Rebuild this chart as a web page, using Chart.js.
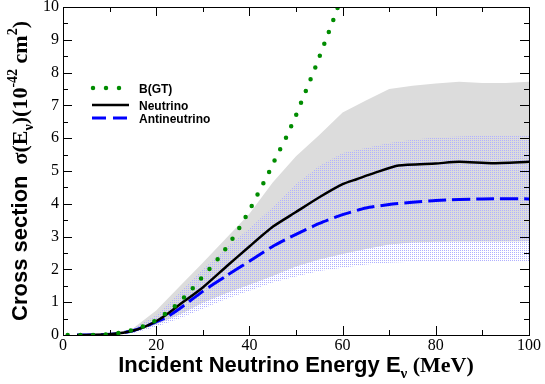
<!DOCTYPE html>
<html>
<head>
<meta charset="utf-8">
<script src="https://cdn.jsdelivr.net/npm/chart.js@4.4.1/dist/chart.umd.min.js"></script>
<style>
  html, body { margin: 0; padding: 0; background: #fff; }
</style>
</head>
<body>
<canvas id="xsChart" width="545" height="384"></canvas>
<script>
// Cross sections (10^-42 cm^2) vs incident energy (MeV)
const bgtE = [1, 3, 6, 9, 12, 15, 17.5, 20, 22, 24, 26, 28, 30, 32, 34, 36, 38, 40, 42, 44, 46, 48, 50, 52, 54, 56, 58, 60];
const bgtXs = [0, 0, 0, 0.01, 0.06, 0.15, 0.28, 0.45, 0.65, 0.88, 1.15, 1.45, 1.78, 2.1, 2.45, 2.85, 3.3, 3.8, 4.35, 4.9, 5.5, 6.05, 6.7, 7.4, 8.1, 8.85, 9.6, 10.4];

const nuE = [3, 5, 10, 12, 15, 17.5, 20, 22, 25, 30, 35, 40, 45, 50, 55, 60, 63, 67, 72, 80, 85, 92, 100];
const nuXs = [0, 0, 0.02, 0.05, 0.13, 0.25, 0.42, 0.6, 0.92, 1.45, 2.08, 2.7, 3.3, 3.75, 4.2, 4.6, 4.75, 4.95, 5.17, 5.23, 5.28, 5.24, 5.28];

const antiE = [3, 5, 8, 10, 12, 15, 17.5, 20, 22, 25, 30, 35, 40, 45, 50, 55, 60, 65, 70, 75, 80, 90, 100];
const antiXs = [0, 0, 0.01, 0.02, 0.05, 0.13, 0.25, 0.4, 0.52, 0.8, 1.33, 1.8, 2.25, 2.7, 3.07, 3.4, 3.67, 3.87, 3.98, 4.05, 4.1, 4.15, 4.15];

// uncertainty bands
const bandE = [3, 5, 10, 15, 20, 25, 30, 35, 40, 45, 50, 55, 60, 65, 70, 75, 80, 85, 90, 95, 100];
const nuUpper = [0, 0, 0.02, 0.2, 0.75, 1.48, 2.2, 2.95, 3.7, 4.65, 5.45, 6.1, 6.78, 7.15, 7.5, 7.6, 7.67, 7.72, 7.68, 7.68, 7.72];
const nuLower = [0, 0, 0, 0.08, 0.32, 0.62, 0.98, 1.27, 1.53, 1.8, 2.09, 2.3, 2.47, 2.62, 2.76, 2.82, 2.84, 2.85, 2.85, 2.85, 2.86];
const antiUpper = [0, 0, 0.02, 0.2, 0.6, 1.3, 2.0, 2.65, 3.25, 3.9, 4.6, 5.15, 5.55, 5.7, 5.85, 5.95, 6.02, 6.05, 6.08, 6.08, 6.1];
const antiLower = [0, 0, 0, 0.05, 0.25, 0.5, 0.8, 1.1, 1.35, 1.6, 1.78, 1.95, 2.05, 2.15, 2.2, 2.23, 2.24, 2.25, 2.25, 2.25, 2.25];

const xTickStep = 20;
const yTickStep = 1;

const pts = (xs, ys) => xs.map((x, i) => ({ x, y: ys[i] }));

// blue stipple for the antineutrino band
const tile = document.createElement('canvas');
tile.width = 2; tile.height = 2;
const tctx = tile.getContext('2d');
tctx.fillStyle = '#b0b0ff';
tctx.fillRect(0, 0, 1, 1);
const stipple = tctx.createPattern(tile, 'repeat');

const green = 'rgb(0,140,0)';
const blue = '#0000ff';
const sans = '"Liberation Sans", Arial, sans-serif';
const serif = '"Liberation Serif", "Times New Roman", serif';

// frame with inward ticks on all four sides
const framePlugin = {
  id: 'frame',
  afterDatasetsDraw(chart) {
    const { ctx, chartArea: a, scales } = chart;
    ctx.save();
    ctx.strokeStyle = '#000';
    ctx.lineWidth = 1;
    ctx.beginPath();
    for (let v = 0; v <= 100; v += 10) {
      const px = Math.round(scales.x.getPixelForValue(v)) + 0.5;
      const len = v % 20 === 0 ? 9 : 5;
      ctx.moveTo(px, a.bottom); ctx.lineTo(px, a.bottom - len);
      ctx.moveTo(px, a.top); ctx.lineTo(px, a.top + len);
    }
    for (let v = 0; v <= 10; v += 0.5) {
      const py = Math.round(scales.y.getPixelForValue(v)) + 0.5;
      const len = Number.isInteger(v) ? 9 : 5;
      ctx.moveTo(a.left, py); ctx.lineTo(a.left + len, py);
      ctx.moveTo(a.right, py); ctx.lineTo(a.right - len, py);
    }
    ctx.stroke();
    ctx.strokeRect(Math.round(a.left) + 0.5, Math.round(a.top) + 0.5, Math.round(a.right - a.left), Math.round(a.bottom - a.top));
    ctx.restore();
  }
};

// legend + axis titles
const textPlugin = {
  id: 'texts',
  afterDraw(chart) {
    const { ctx, chartArea: a } = chart;
    ctx.save();
    ctx.fillStyle = '#000';
    ctx.textBaseline = 'alphabetic';

    // legend
    const rows = [
      { label: 'B(GT)', y: 88, ds: chart.data.datasets[0] },
      { label: 'Neutrino', y: 105, ds: chart.data.datasets[1] },
      { label: 'Antineutrino', y: 118, ds: chart.data.datasets[2] }
    ];
    rows.forEach(r => {
      ctx.save();
      ctx.strokeStyle = r.ds.borderColor;
      ctx.lineWidth = r.ds.borderWidth;
      ctx.lineCap = r.ds.borderCapStyle || 'butt';
      ctx.beginPath();
      if (r.label === 'B(GT)') {
        ctx.setLineDash([0, 13]);
        ctx.moveTo(93, r.y); ctx.lineTo(122, r.y);
      } else if (r.label === 'Antineutrino') {
        ctx.setLineDash([14, 7]);
        ctx.moveTo(92, r.y); ctx.lineTo(129, r.y);
      } else {
        ctx.moveTo(92, r.y); ctx.lineTo(129, r.y);
      }
      ctx.stroke();
      ctx.restore();
      ctx.font = 'bold 12px ' + sans;
      ctx.fillText(r.label, 139, r.y + 4.5);
    });

    // x title
    const xParts = [
      { t: 'Incident Neutrino Energy E', f: 'bold 22px ' + sans, dy: 0 },
      { t: 'ν', f: 'bold 15px ' + serif, dy: 6 },
      { t: ' (MeV)', f: 'bold 22px ' + serif, dy: 0 }
    ];
    drawParts(ctx, xParts, (a.left + a.right) / 2, 372);

    // y title
    const yParts = [
      { t: 'Cross section', f: 'bold 22px ' + sans, dy: 0 },
      { t: '  σ(E', f: 'bold 22px ' + serif, dy: 0 },
      { t: 'ν', f: 'bold 14px ' + serif, dy: 6 },
      { t: ')(10', f: 'bold 22px ' + serif, dy: 0 },
      { t: '-42', f: 'bold 14px ' + serif, dy: -10 },
      { t: ' cm', f: 'bold 22px ' + serif, dy: 0 },
      { t: '2', f: 'bold 14px ' + serif, dy: -10 },
      { t: ')', f: 'bold 22px ' + serif, dy: 0 }
    ];
    ctx.translate(27, (a.top + a.bottom) / 2);
    ctx.rotate(-Math.PI / 2);
    drawParts(ctx, yParts, 0, 0);
    ctx.restore();
  }
};

function drawParts(ctx, parts, cx, baseY) {
  let total = 0;
  parts.forEach(p => { ctx.font = p.f; p.w = ctx.measureText(p.t).width; total += p.w; });
  let x = cx - total / 2;
  ctx.textAlign = 'left';
  parts.forEach(p => {
    ctx.font = p.f;
    ctx.fillText(p.t, x, baseY + p.dy);
    x += p.w;
  });
}

const ctx = document.getElementById('xsChart').getContext('2d');
new Chart(ctx, {
  type: 'line',
  data: {
    datasets: [
      {
        label: 'B(GT)',
        data: pts(bgtE, bgtXs),
        borderColor: green,
        borderWidth: 4.5,
        borderDash: [0, 12.7],
        borderCapStyle: 'round',
        pointRadius: 0,
        fill: false,
        order: 0
      },
      {
        label: 'Neutrino',
        data: pts(nuE, nuXs),
        borderColor: '#000',
        borderWidth: 2.5,
        pointRadius: 0,
        tension: 0.2,
        fill: false,
        order: 1
      },
      {
        label: 'Antineutrino',
        data: pts(antiE, antiXs),
        borderColor: blue,
        borderWidth: 3,
        borderDash: [18, 6],
        pointRadius: 0,
        tension: 0.2,
        fill: false,
        order: 2
      },
      {
        label: 'Antineutrino band',
        data: pts(bandE, antiUpper),
        borderWidth: 0,
        borderColor: 'rgba(0,0,0,0)',
        backgroundColor: stipple,
        pointRadius: 0,
        fill: '+1',
        order: 3
      },
      {
        label: 'Antineutrino low',
        data: pts(bandE, antiLower),
        borderWidth: 0,
        borderColor: 'rgba(0,0,0,0)',
        pointRadius: 0,
        fill: false,
        order: 4
      },
      {
        label: 'Neutrino band',
        data: pts(bandE, nuUpper),
        borderWidth: 0,
        borderColor: 'rgba(0,0,0,0)',
        backgroundColor: '#dcdcdc',
        pointRadius: 0,
        fill: '+1',
        order: 5
      },
      {
        label: 'Neutrino low',
        data: pts(bandE, nuLower),
        borderWidth: 0,
        borderColor: 'rgba(0,0,0,0)',
        pointRadius: 0,
        fill: false,
        order: 6
      }
    ]
  },
  options: {
    responsive: false,
    animation: false,
    devicePixelRatio: 1,
    layout: { padding: { top: 7, right: 16, left: 0, bottom: 0 } },
    plugins: {
      legend: { display: false },
      tooltip: { enabled: false },
      filler: { drawTime: 'beforeDatasetsDraw' }
    },
    scales: {
      x: {
        type: 'linear',
        min: 0,
        max: 100,
        ticks: { stepSize: xTickStep, color: '#000', font: { family: serif, size: 16 }, padding: 1, maxRotation: 0 },
        grid: { display: false, drawTicks: false },
        border: { display: false },
        afterFit(s) { s.height = 49; }
      },
      y: {
        min: 0,
        max: 10,
        ticks: { stepSize: yTickStep, color: '#000', font: { family: serif, size: 16 }, padding: 4 },
        grid: { display: false, drawTicks: false },
        border: { display: false },
        afterFit(s) { s.width = 63; s.paddingTop = 0; s.paddingBottom = 0; }
      }
    }
  },
  plugins: [framePlugin, textPlugin]
});
</script>
</body>
</html>
